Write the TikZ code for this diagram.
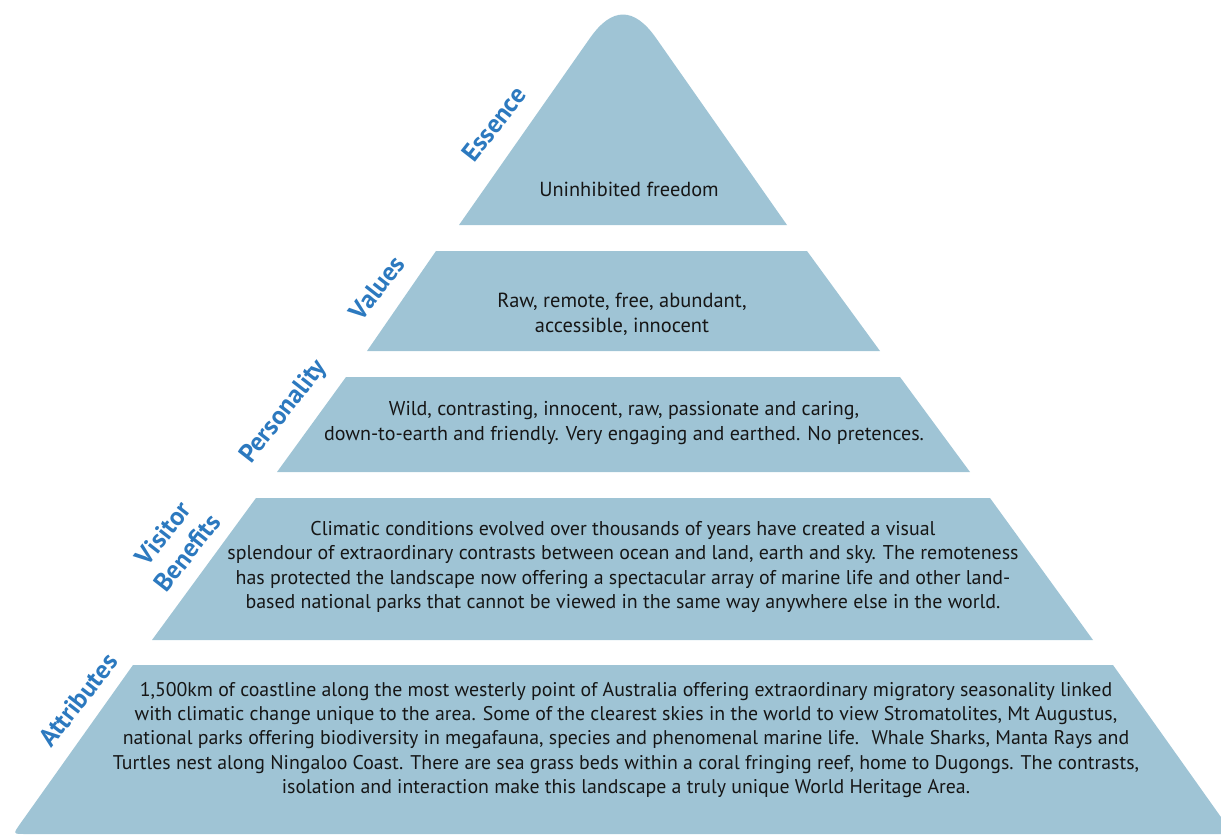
\documentclass[tikz,border=0pt]{standalone}
\usepackage{fontspec}
\setmainfont{PT Sans}
\usetikzlibrary{positioning}
\definecolor{Tier}{HTML}{9FC4D5}
\definecolor{Label}{HTML}{2C79BF}
\definecolor{Ink}{HTML}{161616}
\tikzset{
  tier/.style={fill=Tier},
  lbl/.style={text=Label,font=\fontsize{26}{31}\selectfont\bfseries,rotate=52,align=center,inner sep=0pt},
  desc/.style={text=Ink,align=center,inner sep=0pt},
}

\begin{document}
\begin{tikzpicture}[x=1bp,y=-1bp]
    \clip (0,0) rectangle (1221,836);

    \fill[tier] (459,225) -- (590,38) .. controls (612,6.7) and (634,6.7) .. (656,38) -- (787,225) -- cycle;
    \fill[tier] (436,251) -- (807,251) -- (880,351) -- (367,351) -- cycle;
    \fill[tier] (346,377) -- (900,377) -- (970,472) -- (277,472) -- cycle;
    \fill[tier] (256,498) -- (990,498) -- (1093,640) -- (152,640) -- cycle;
    \fill[tier] (133,665) -- (1113,665) -- (1233,834) -- (25,834) .. controls (13,834) .. (20,824) -- cycle;

    \node[desc,font=\fontsize{20.4}{25}\selectfont] (essence) at (629,189) {Uninhibited freedom};
    \node[desc,font=\fontsize{20.5}{25}\selectfont] (values) at (622,314) {Raw, remote, free, abundant,\\accessible, innocent};
    \node[desc,font=\fontsize{20.1}{26}\selectfont] (personality) at (624,423) {Wild, contrasting, innocent, raw, passionate and caring,\\down-to-earth and friendly. Very engaging and earthed. No pretences.};
    \node[desc,font=\fontsize{20}{24.7}\selectfont] (benefits) at (623,567) {Climatic conditions evolved over thousands of years have created a visual\\splendour of extraordinary contrasts between ocean and land, earth and sky. The remoteness\\has protected the landscape now offering a spectacular array of marine life and other land-\\based national parks that cannot be viewed in the same way anywhere else in the world.};
    \node[desc,font=\fontsize{19.9}{24.5}\selectfont] (attributes) at (626,740) {1,500km of coastline along the most westerly point of Australia offering extraordinary migratory seasonality linked\\with climatic change unique to the area. Some of the clearest skies in the world to view Stromatolites, Mt Augustus,\\national parks offering biodiversity in megafauna, species and phenomenal marine life.~ Whale Sharks, Manta Rays and\\Turtles nest along Ningaloo Coast. There are sea grass beds within a coral fringing reef, home to Dugongs. The contrasts,\\isolation and interaction make this landscape a truly unique World Heritage Area.};

    \node[lbl] (essenceLbl) at (494,124) {Essence};
    \node[lbl] (valuesLbl) at (377,288) {Values};
    \node[lbl] (personalityLbl) at (284,412) {Personality};
    \node[lbl] (benefitsLbl) at (175,543) {Visitor\\Benefits};
    \node[lbl] (attributesLbl) at (78,700) {Attributes};
  \end{tikzpicture}
\end{document}
